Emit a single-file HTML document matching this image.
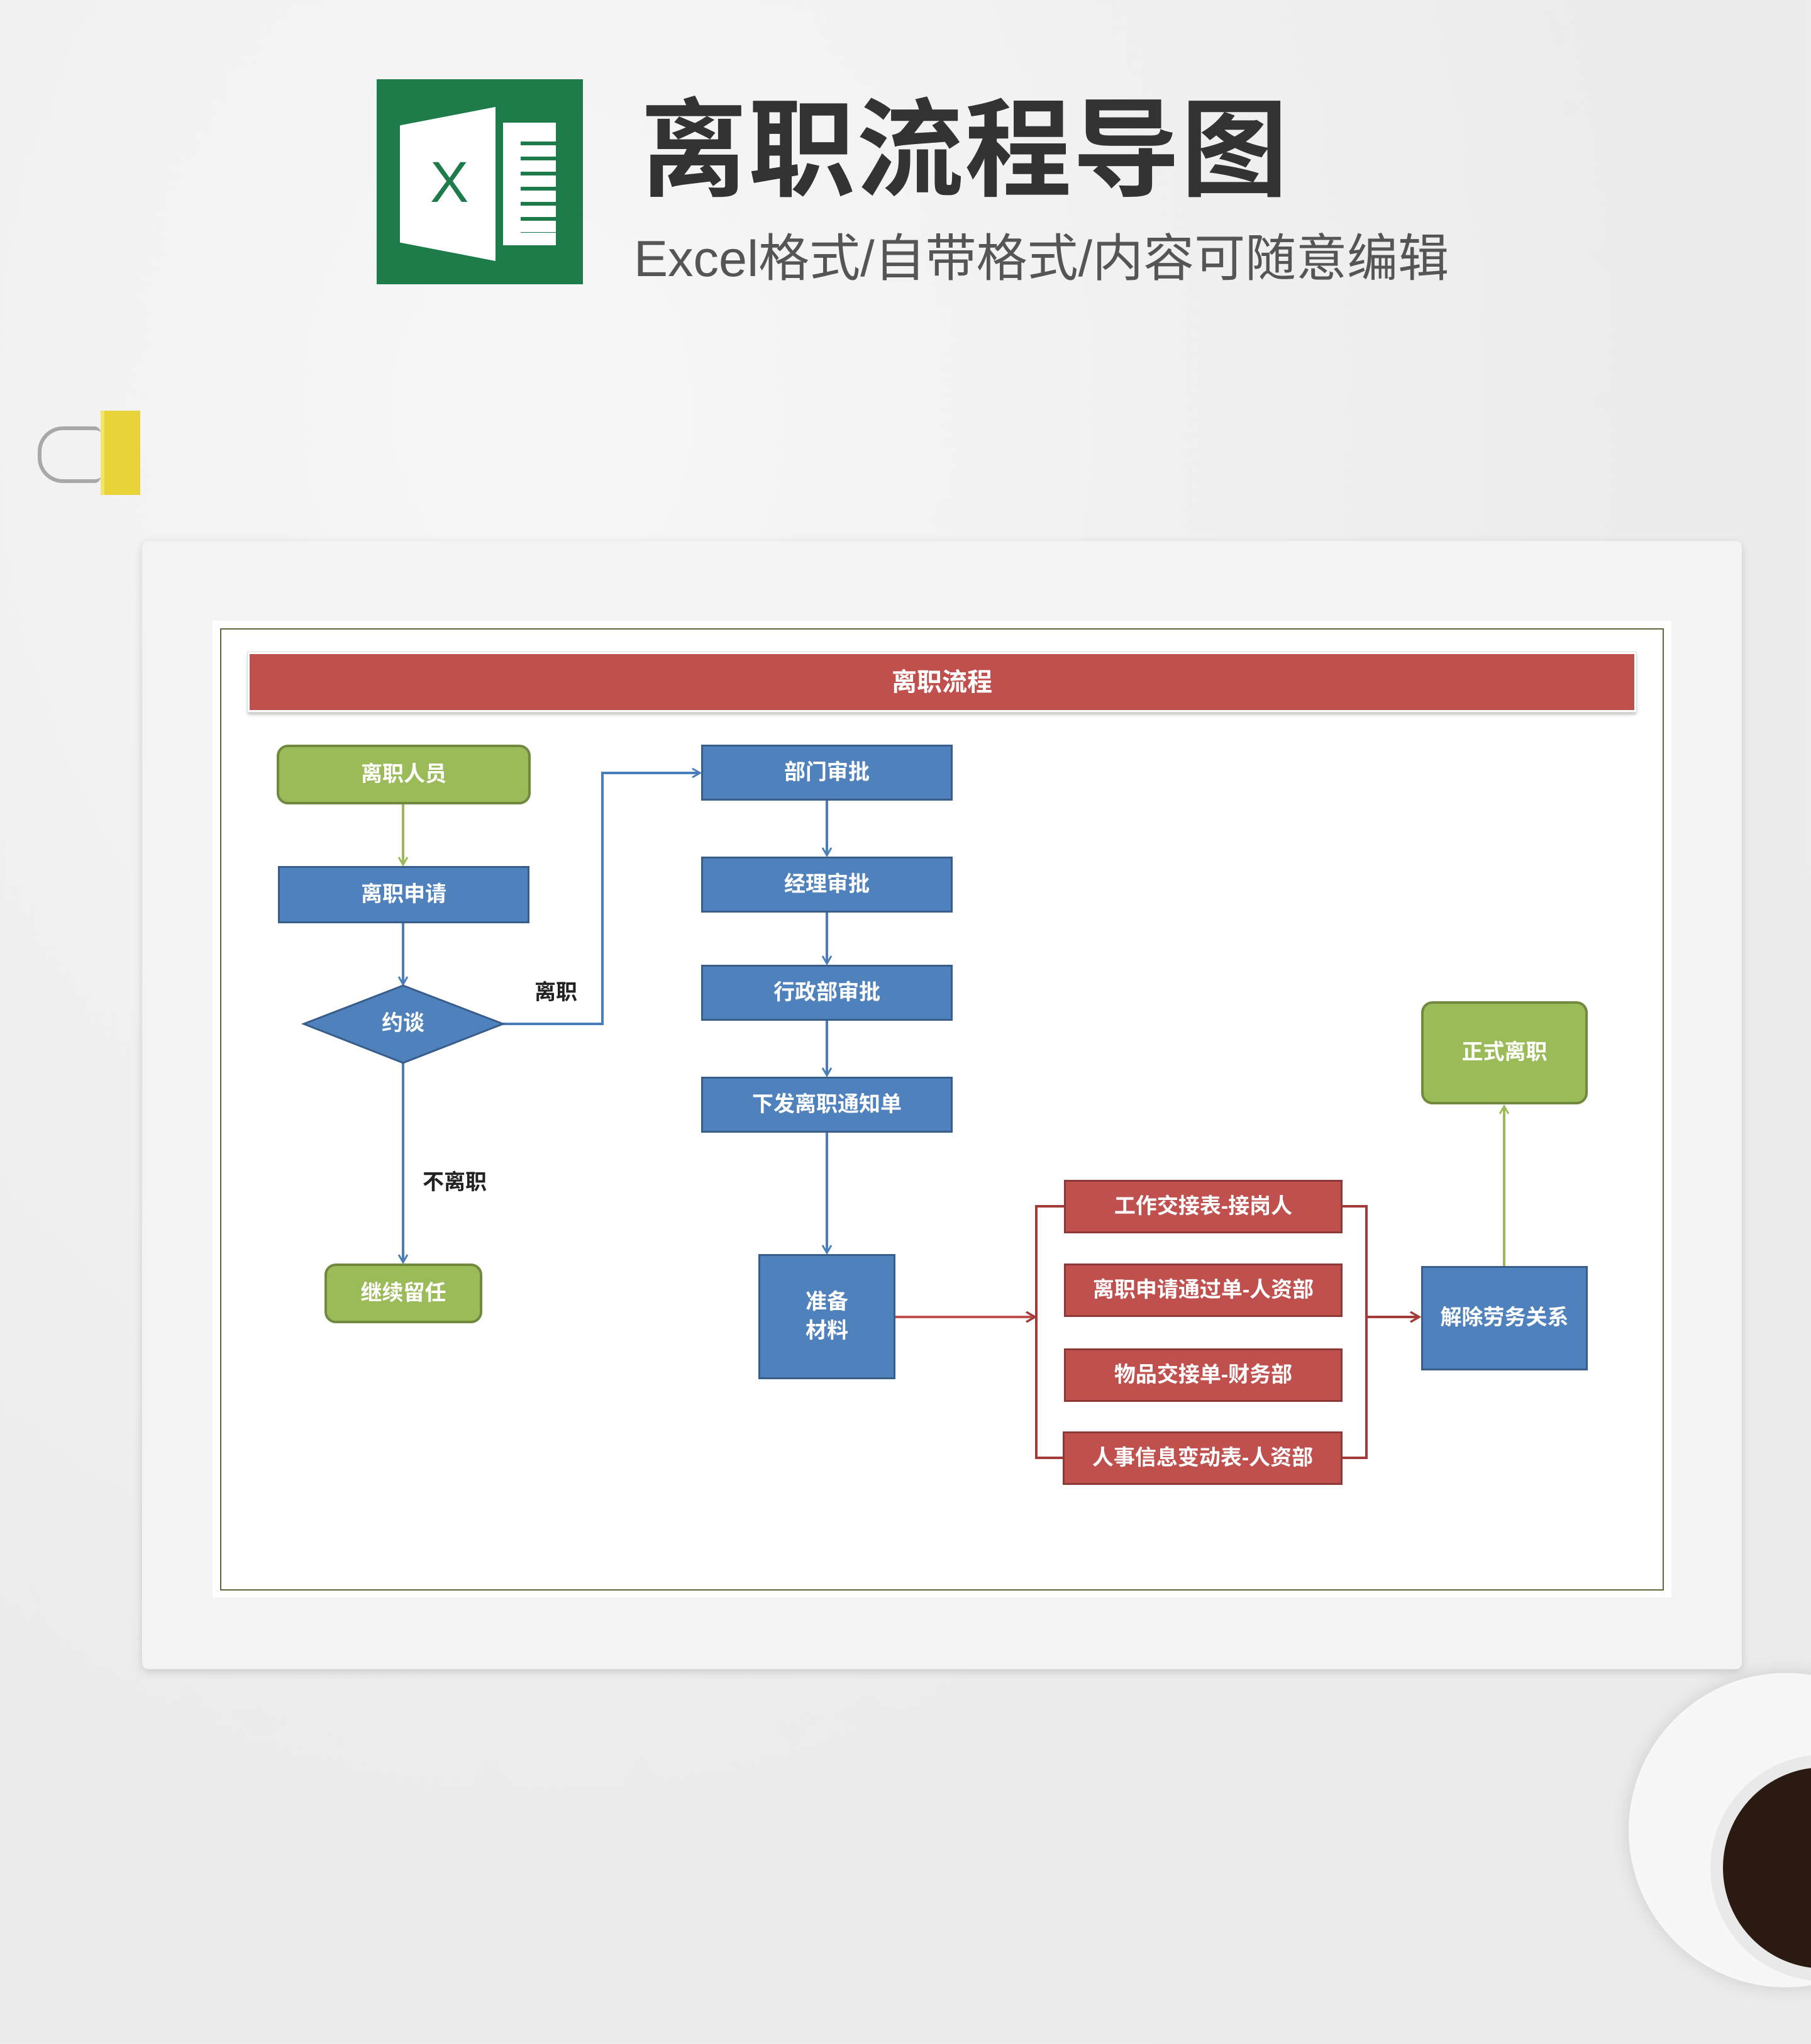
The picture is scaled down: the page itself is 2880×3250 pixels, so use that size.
<!DOCTYPE html>
<html><head><meta charset="utf-8">
<style>
html,body{margin:0;padding:0}
body{width:2880px;height:3250px;position:relative;overflow:hidden;background:#ededed;
background-image:radial-gradient(ellipse at 30% 20%,#f7f7f7 0,#ececec 60%),linear-gradient(#f0f0f0,#e8e8e8);
font-family:"Liberation Sans","Noto Sans CJK SC",sans-serif}
.a{position:absolute;box-sizing:border-box}
.n{position:absolute;box-sizing:border-box;color:#fff;font-weight:bold;font-size:34px;display:flex;align-items:center;justify-content:center;text-align:center;line-height:1.35;font-family:"Liberation Sans","Noto Sans CJK SC",sans-serif}
.b{background:#4f81bd;border:3px solid #385d8a}
.r{background:#c0504d;border:3px solid #8c3836}
.g{background:#9bbb59;border:4px solid #71893f;border-radius:18px}
.l{position:absolute;font-size:34px;font-weight:bold;color:#222}
</style></head><body>
<!-- header -->
<div class="a" style="left:599px;top:126px;width:328px;height:326px;background:#1e7b4a"></div>
<div class="a" style="left:800px;top:195px;width:84px;height:195px;background:#fff"></div>
<div class="a" style="left:820px;top:225px;width:64px;height:145px;background:repeating-linear-gradient(#1e7b4a 0 6px,#fff 6px 24px),#fff;"></div>
<div class="a" style="left:820px;top:222px;width:8px;height:150px;background:#fff"></div>
<div class="a" style="left:636px;top:170px;width:152px;height:245px;background:#fff;clip-path:polygon(0 12%,100% 0,100% 100%,0 88%)"></div>
<div class="a" style="left:684px;top:238px;font-size:92px;color:#1e7b4a;font-family:'Liberation Sans',sans-serif">X</div>
<div class="a" style="left:1018px;top:140px;font-size:170px;font-weight:bold;color:#333;letter-spacing:2px;line-height:200px;font-family:'Liberation Sans','Noto Sans CJK SC',sans-serif">离职流程导图</div>
<div class="a" style="left:1008px;top:357px;font-size:81px;color:#555;line-height:110px;letter-spacing:0px">Excel格式/自带格式/内容可随意编辑</div>
<!-- clip -->
<div class="a" style="left:60px;top:678px;width:100px;height:90px;border:6px solid #a8a8a8;border-radius:40px 10px 10px 40px;border-right:none"></div>
<div class="a" style="left:160px;top:653px;width:63px;height:134px;background:#e8d33a;border-left:6px solid #f2e36a"></div>
<!-- coffee -->
<div class="a" style="left:2590px;top:2660px;width:500px;height:500px;border-radius:50%;background:#f7f7f7;box-shadow:0 0 30px #ccc"></div>
<div class="a" style="left:2720px;top:2790px;width:360px;height:360px;border-radius:50%;background:#2a1a12;border:20px solid #e9e9e9"></div>
<!-- card -->
<div class="a" style="left:226px;top:860px;width:2544px;height:1794px;background:#f3f3f3;border-radius:10px;box-shadow:0 4px 14px rgba(0,0,0,.15)"></div>
<div class="a" style="left:338px;top:987px;width:2320px;height:1553px;background:#fff"></div>
<div class="a" style="left:350px;top:999px;width:2296px;height:1530px;border:2px solid #5a6a3a"></div>
<div class="n" style="left:394px;top:1037px;width:2208px;height:95px;background:#c0504d;font-size:40px;box-shadow:0 4px 5px rgba(0,0,0,.25);border:3px solid #fff;outline:1px solid #ddd">离职流程</div>
<svg class="a" style="left:0;top:0" width="2880" height="3250">
<defs>
<marker id="mb" markerWidth="16" markerHeight="16" refX="13" refY="8" orient="auto" markerUnits="userSpaceOnUse"><path d="M1,1 L13,8 L1,15" fill="none" stroke="#4a7ebb" stroke-width="3"/></marker>
<marker id="mg" markerWidth="16" markerHeight="16" refX="13" refY="8" orient="auto" markerUnits="userSpaceOnUse"><path d="M1,1 L13,8 L1,15" fill="none" stroke="#9bbb59" stroke-width="3"/></marker>
<marker id="mr" markerWidth="18" markerHeight="18" refX="15" refY="9" orient="auto" markerUnits="userSpaceOnUse"><path d="M1,1 L15,9 L1,17" fill="none" stroke="#a33b38" stroke-width="3.5"/></marker>
</defs>
<g fill="none" stroke-width="4">
<line x1="641" y1="1279" x2="641" y2="1375" stroke="#9bbb59" marker-end="url(#mg)"/>
<line x1="641" y1="1468" x2="641" y2="1565" stroke="#4a7ebb" marker-end="url(#mb)"/>
<line x1="641" y1="1690" x2="641" y2="2007" stroke="#4a7ebb" marker-end="url(#mb)"/>
<polyline points="800,1628 958,1628 958,1229 1113,1229" stroke="#4a7ebb" marker-end="url(#mb)"/>
<line x1="1315" y1="1273" x2="1315" y2="1360" stroke="#4a7ebb" marker-end="url(#mb)"/>
<line x1="1315" y1="1451" x2="1315" y2="1532" stroke="#4a7ebb" marker-end="url(#mb)"/>
<line x1="1315" y1="1623" x2="1315" y2="1710" stroke="#4a7ebb" marker-end="url(#mb)"/>
<line x1="1315" y1="1801" x2="1315" y2="1992" stroke="#4a7ebb" marker-end="url(#mb)"/>
<line x1="1424" y1="2094" x2="1646" y2="2094" stroke="#c0504d" marker-end="url(#mr)"/>
<polyline points="1692,1918 1648,1918 1648,2318 1692,2318" stroke="#a33b38"/>
<polyline points="2135,1918 2173,1918 2173,2318 2135,2318" stroke="#a33b38"/>
<line x1="2173" y1="2094" x2="2257" y2="2094" stroke="#a33b38" marker-end="url(#mr)"/>
<line x1="2392" y1="2013" x2="2392" y2="1759" stroke="#9bbb59" marker-end="url(#mg)"/>
<polygon points="641,1567 800,1628 641,1690 483,1628" fill="#4f81bd" stroke="#385d8a" stroke-width="3"/>
</g>
</svg>
<div class="n" style="left:583px;top:1598px;width:116px;height:60px">约谈</div>
<div class="n g" style="left:440px;top:1184px;width:404px;height:95px">离职人员</div>
<div class="n b" style="left:442px;top:1377px;width:400px;height:91px">离职申请</div>
<div class="n g" style="left:516px;top:2009px;width:251px;height:95px">继续留任</div>
<div class="l" style="left:850px;top:1550px">离职</div>
<div class="l" style="left:672px;top:1852px">不离职</div>
<div class="n b" style="left:1115px;top:1184px;width:400px;height:89px">部门审批</div>
<div class="n b" style="left:1115px;top:1362px;width:400px;height:89px">经理审批</div>
<div class="n b" style="left:1115px;top:1534px;width:400px;height:89px">行政部审批</div>
<div class="n b" style="left:1115px;top:1712px;width:400px;height:89px">下发离职通知单</div>
<div class="n b" style="left:1206px;top:1994px;width:218px;height:199px">准备<br>材料</div>
<div class="n r" style="left:1692px;top:1876px;width:443px;height:85px">工作交接表-接岗人</div>
<div class="n r" style="left:1692px;top:2009px;width:443px;height:85px">离职申请通过单-人资部</div>
<div class="n r" style="left:1692px;top:2144px;width:443px;height:85px">物品交接单-财务部</div>
<div class="n r" style="left:1690px;top:2276px;width:445px;height:85px">人事信息变动表-人资部</div>
<div class="n b" style="left:2260px;top:2013px;width:265px;height:166px">解除劳务关系</div>
<div class="n g" style="left:2260px;top:1592px;width:265px;height:164px">正式离职</div>
</body></html>
